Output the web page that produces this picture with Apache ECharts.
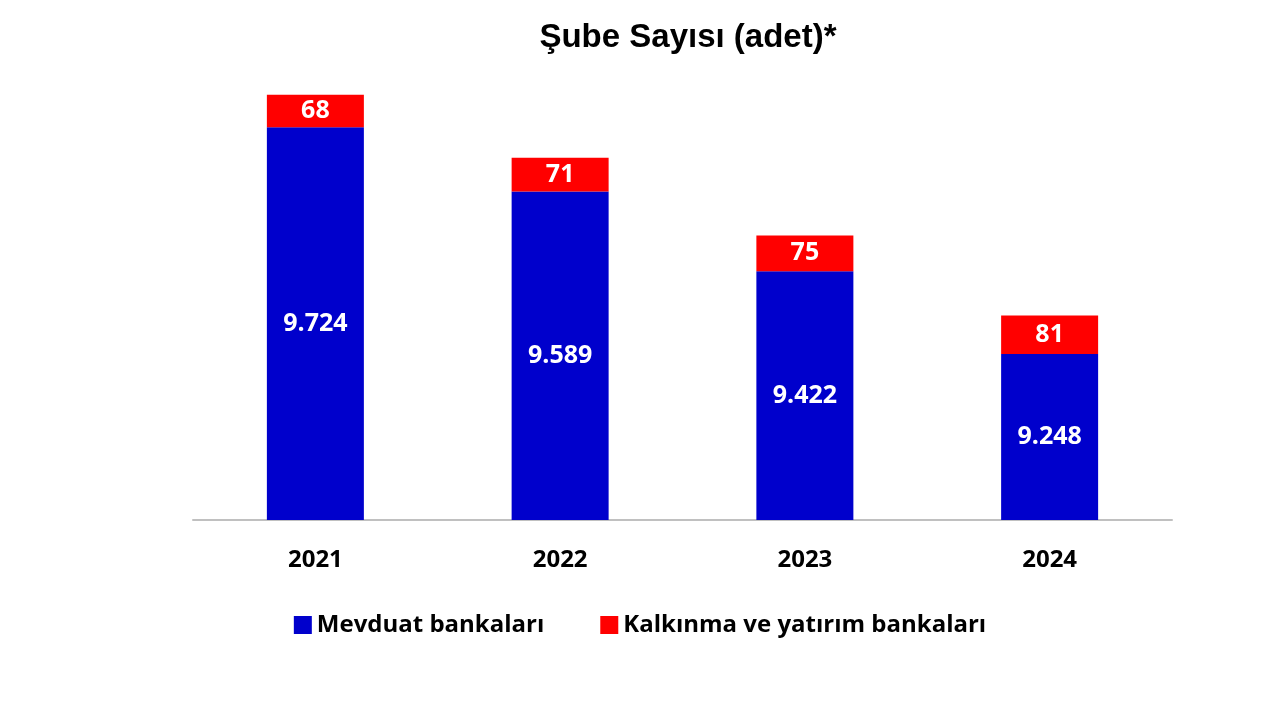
<html>
<head>
<meta charset="utf-8">
<title>Şube Sayısı</title>
<script src="https://cdn.jsdelivr.net/npm/echarts@6/dist/echarts.min.js"></script>
</head>
<body style="margin:0">
<div id="chartmain" style="width:1280px;height:720px;"></div>
<script type="text/javascript">
var years = ['2021', '2022', '2023', '2024'];
var mevduat = [9724, 9589, 9422, 9248];
var kalkinma = [68, 71, 75, 81];

function fmt(v) {
    return String(v).replace(/\B(?=(\d{3})+(?!\d))/g, '.');
}

var labelStyle = {
    show: true,
    position: 'inside',
    color: '#fff',
    fontFamily: 'Open Sans',
    fontWeight: 'bold',
    fontSize: 25,
    formatter: function (p) { return fmt(p.value); }
};

var myChart = echarts.init(document.getElementById('chartmain'));
myChart.setOption({
    animation: false,
    title: {
        text: 'Şube Sayısı (adet)*',
        left: 683, top: 16, textAlign: 'center',
        textStyle: { fontFamily: 'Liberation Sans', fontWeight: 'bold', fontSize: 33, color: '#000' }
    },
    legend: {
        bottom: 78, left: 'center',
        icon: 'rect',
        itemWidth: 18, itemHeight: 18, itemGap: 56,
        textStyle: { fontFamily: 'Open Sans', fontWeight: 'bold', fontSize: 24, color: '#000' },
        data: ['Mevduat bankaları', 'Kalkınma ve yatırım bankaları']
    },
    grid: { left: 193, right: 108, top: 91, bottom: 200 },
    xAxis: {
        type: 'category', data: years,
        axisLine: { lineStyle: { color: '#c0c0c0', width: 2 } },
        axisTick: { show: false },
        axisLabel: { margin: 28, color: '#000', fontFamily: 'Open Sans', fontWeight: 'bold', fontSize: 24 }
    },
    yAxis: { type: 'value', min: 8900, max: 9800, show: false, splitLine: { show: false } },
    series: [
        { name: 'Mevduat bankaları', type: 'bar', stack: 's', barWidth: 97,
          itemStyle: { color: '#0000cc' }, label: labelStyle, data: mevduat },
        { name: 'Kalkınma ve yatırım bankaları', type: 'bar', stack: 's', barWidth: 97,
          itemStyle: { color: '#ff0000' }, label: labelStyle, data: kalkinma }
    ]
});
</script>
</body>
</html>
